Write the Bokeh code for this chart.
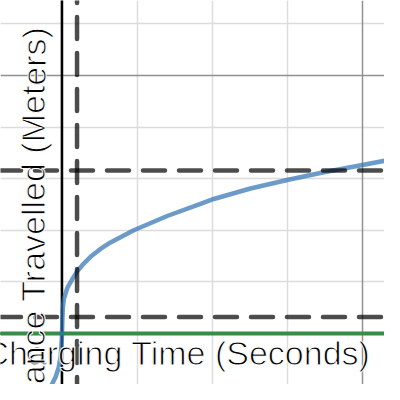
from bokeh.plotting import figure
from bokeh.models import Label, Grid, FixedTicker
from bokeh.embed import file_html
from bokeh.resources import INLINE

# ---- data ----
curve_x = [-1.429, -1.209, -0.764, -0.432, -0.213, -0.100, -0.047, -0.013, 0.0,
           0.013, 0.033, 0.060, 0.133, 0.365, 0.744, 1.010, 1.429, 1.894, 2.558,
           3.223, 4.771, 6.990, 9.203, 10.086, 12.525, 14.963, 17.395, 20.053, 22.492]
curve_y = [-12.98, -12.34, -10.41, -8.47, -6.53, -4.59, -2.66, -0.97, 0.0,
           1.36, 3.16, 5.04, 6.78, 8.91, 10.81, 12.05, 13.51, 14.86, 16.38,
           17.64, 20.00, 22.77, 25.14, 26.07, 28.10, 29.75, 31.26, 32.69, 34.07]

vline_x = 1.0            # vertical dashed line
hline_ys = [31.6, 3.2]   # horizontal dashed lines
green_y = 0.0            # green horizontal line

x_major_ticks = [0, 20]
x_minor_ticks = [-5, 5, 10, 15, 25]
y_major_ticks = [0, 50]
y_minor_ticks = [-20, -10, 10, 20, 30, 40, 60, 70]

x_label = "Charging Time (Seconds)"
y_label = "Distance Travelled (Meters)"

X0, X1 = -4.086, 21.43
Y0, Y1 = -9.88, 64.53

p = figure(width=384, height=384, x_range=(X0, X1), y_range=(Y0, Y1),
           output_backend="svg", toolbar_location=None, min_border=0,
           x_axis_location=None, y_axis_location=None,
           outline_line_color=None, background_fill_color="white",
           border_fill_color="white")

# grid
p.add_layout(Grid(dimension=0, ticker=FixedTicker(ticks=x_minor_ticks),
                  grid_line_color="#dcdcdc", grid_line_width=1.5), "center")
p.add_layout(Grid(dimension=1, ticker=FixedTicker(ticks=y_minor_ticks),
                  grid_line_color="#dcdcdc", grid_line_width=1.5), "center")
p.add_layout(Grid(dimension=0, ticker=FixedTicker(ticks=x_major_ticks),
                  grid_line_color="#909090", grid_line_width=1.5), "center")
p.add_layout(Grid(dimension=1, ticker=FixedTicker(ticks=y_major_ticks),
                  grid_line_color="#909090", grid_line_width=1.5), "center")

# axes
p.line([0, 0], [Y0 - 5, Y1 + 5], line_color="black", line_width=2.5)
p.line([X0 - 5, X1 + 5], [0, 0], line_color="black", line_width=2.5)

# green line
p.line([X0 - 5, X1 + 5], [green_y, green_y], line_color="#388c46", line_width=4)

# curve
p.line(curve_x, curve_y, line_color="#2d70b3", line_alpha=0.7, line_width=4.5,
       line_join="round", line_cap="round")

# dashed lines
for hy in hline_ys:
    p.line([-4.186, 24.0], [hy, hy], line_color="black", line_alpha=0.7,
           line_width=4.5, line_dash="22 14", line_cap="round")
p.line([vline_x, vline_x], [68.31, -14.0], line_color="black", line_alpha=0.7,
       line_width=4.5, line_dash="22 14", line_cap="round")

# labels
lx = Label(x=370, y=32, x_units="screen", y_units="screen", text=x_label,
           text_font="Liberation Sans", text_font_size="34px", text_color="black",
           text_align="right", text_baseline="alphabetic",
           text_outline_color="white")
ly = Label(x=33, y=358, x_units="screen", y_units="screen", text=y_label,
           angle=1.5707963, text_font="Liberation Sans", text_font_size="34px",
           text_color="black", text_align="right", text_baseline="alphabetic",
           text_outline_color="white")
p.add_layout(lx)
p.add_layout(ly)

open("out.html", "w").write(file_html(p, INLINE))
